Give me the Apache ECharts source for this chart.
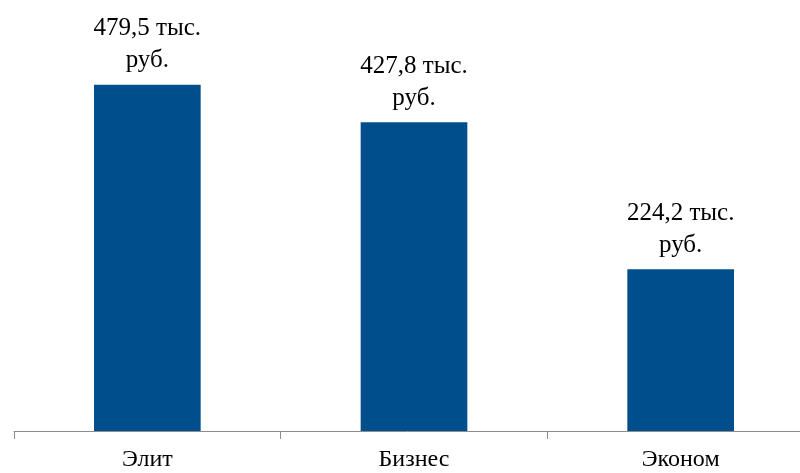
<!DOCTYPE html>
<html>
<head>
<meta charset="utf-8">
<script src="https://cdn.jsdelivr.net/npm/echarts@6/dist/echarts.min.js"></script>
<style>
  html, body { margin: 0; padding: 0; background: #ffffff; }
  #chart { width: 800px; height: 473px; }
</style>
</head>
<body>
<div id="chart"></div>
<script>
// Средняя стоимость по классам жилья, тыс. руб.
const categories = ['Элит', 'Бизнес', 'Эконом'];
const values = [479.5, 427.8, 224.2];

const chart = echarts.init(document.getElementById('chart'));
const font = 'Liberation Serif';

chart.setOption({
  animation: false,
  grid: { left: 14, top: 0, right: -14, bottom: 42, containLabel: false, outerBoundsMode: 'none' },
  xAxis: {
    type: 'category',
    data: categories,
    axisLine: { show: true, lineStyle: { color: '#8c8c8c', width: 1 } },
    axisTick: { show: true, length: 8, lineStyle: { color: '#8c8c8c' } },
    axisLabel: { color: '#000', fontFamily: font, fontSize: 24, margin: 17 }
  },
  yAxis: {
    type: 'value',
    min: 0,
    max: 597,
    show: false,
    splitLine: { show: false }
  },
  series: [{
    type: 'bar',
    data: values,
    barWidth: '40%',
    itemStyle: { color: '#004f8c' },
    label: {
      show: true,
      position: 'top',
      distance: 8,
      color: '#000',
      fontFamily: font,
      fontSize: 25,
      lineHeight: 32,
      align: 'center',
      formatter: p => p.value.toFixed(1).replace('.', ',') + ' тыс.\nруб.'
    }
  }]
});
</script>
</body>
</html>
